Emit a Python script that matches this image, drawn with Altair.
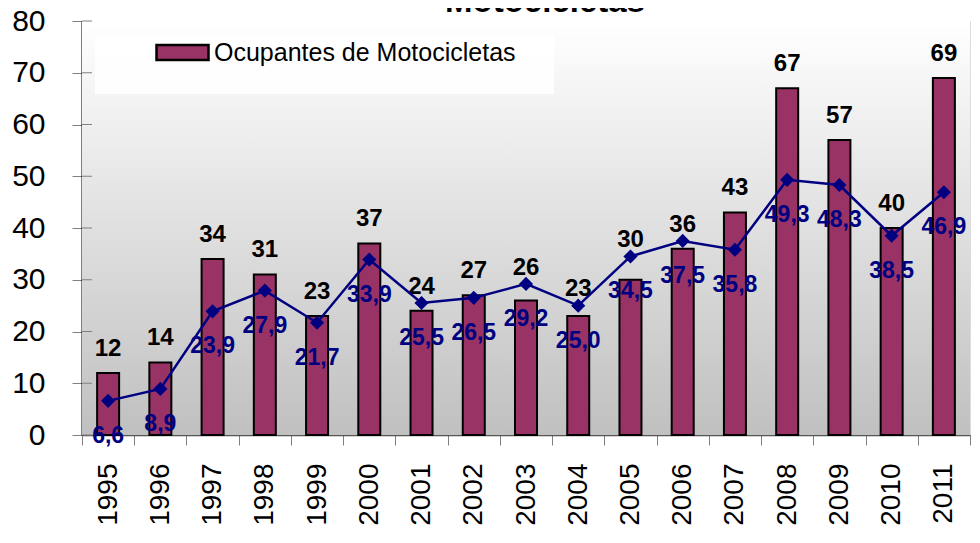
import altair as alt
import pandas as pd

years = ["1995", "1996", "1997", "1998", "1999", "2000", "2001", "2002", "2003",
         "2004", "2005", "2006", "2007", "2008", "2009", "2010", "2011"]
ocupantes = [12, 14, 34, 31, 23, 37, 24, 27, 26, 23, 30, 36, 43, 67, 57, 40, 69]
linea = [6.6, 8.9, 23.9, 27.9, 21.7, 33.9, 25.5, 26.5, 29.2, 25.0, 34.5, 37.5,
         35.8, 49.3, 48.3, 38.5, 46.9]
y_ticks = [0, 10, 20, 30, 40, 50, 60, 70, 80]
serie = "Ocupantes de Motocicletas"
titulo = "Motocicletas"

W, H = 888, 414
FONT = "Liberation Sans"

df = pd.DataFrame({
    "year": years,
    "ocupantes": ocupantes,
    "linea": linea,
    "serie": [serie] * len(years),
    "linea_lbl": [f"{v:.1f}".replace(".", ",") for v in linea],
})

one = pd.DataFrame({"a": [0]})
ticks_df = pd.DataFrame({"t": y_ticks})

yscale = alt.Scale(domain=[0, 80], nice=False)
xscale = alt.Scale(paddingInner=0, paddingOuter=0)

y_axis = alt.Axis(values=y_ticks, labelFontSize=30, labelFont=FONT,
                  labelColor="black", labelPadding=27, tickSize=10,
                  tickColor="#808080", domainColor="black", domainWidth=2,
                  grid=False, title=None)
x_axis = alt.Axis(labelAngle=-90, tickBand="extent", labelFontSize=28,
                  labelFont=FONT, labelColor="black", labelPadding=18,
                  tickSize=10, tickColor="#808080", domainColor="#555555",
                  domainWidth=1.5, title=None)

def X():
    return alt.X("year:N", title=None, sort=years, scale=xscale, axis=x_axis)

def Y(field):
    return alt.Y(field, title=None, scale=yscale, axis=y_axis)

bg = alt.Chart(one).mark_rect(
    fill=alt.Gradient(gradient="linear", x1=0, x2=0, y1=0, y2=1,
                      stops=[alt.GradientStop(color="#ffffff", offset=0),
                             alt.GradientStop(color="#c0c0c0", offset=1)])
).encode(x=alt.value(0), x2=alt.value(W), y=alt.value(0), y2=alt.value(H))

legbox = alt.Chart(one).mark_rect(fill="#ffffff", opacity=0.85).encode(
    x=alt.value(13), x2=alt.value(472), y=alt.value(15), y2=alt.value(73))

inner_ticks = alt.Chart(ticks_df).mark_rule(color="#808080", strokeWidth=1).encode(
    y=Y("t:Q"), x=alt.value(0), x2=alt.value(10))

base = alt.Chart(df)

bars = base.mark_bar(size=22, stroke="black", strokeWidth=2).encode(
    x=X(), y=Y("ocupantes:Q"),
    color=alt.Color("serie:N", scale=alt.Scale(domain=[serie], range=["#993366"]),
                    legend=alt.Legend(title=None, orient="none", legendX=73, legendY=4,
                                      symbolType="M-1,-0.29H1V0.29H-1Z", symbolSize=2704,
                                      symbolStrokeColor="black", symbolStrokeWidth=2.5,
                                      labelFontSize=25, labelFont=FONT, labelColor="black",
                                      labelLimit=600, labelOffset=4, padding=0)))

# bar labels sit above the bar, lifted above the line marker where that is higher
bar_lbl = base.transform_calculate(
    anchor="max(datum.ocupantes + 3.3, datum.linea + 1.8)"
).mark_text(font=FONT, fontSize=24, fontWeight="bold", color="black",
            baseline="alphabetic").encode(
    x=X(), y=Y("anchor:Q"), text="ocupantes:Q")

line = base.mark_line(color="#000080", strokeWidth=2.5).encode(
    x=X(), y=Y("linea:Q"))

pts = base.mark_point(shape="diamond", filled=True, size=200, color="#000080",
                      opacity=1).encode(x=X(), y=Y("linea:Q"))

line_lbl = base.mark_text(font=FONT, fontSize=23, fontWeight="bold", color="#000080",
                          baseline="middle", dy=35).encode(
    x=X(), y=Y("linea:Q"), text="linea_lbl:N")

title = alt.Chart(one).mark_text(text=titulo, font=FONT, fontSize=33, fontWeight="bold",
                                 color="black", baseline="alphabetic", align="center").encode(
    x=alt.value(463), y=alt.value(-9))

chart = alt.layer(bg, legbox, inner_ticks, bars, bar_lbl, line, pts, line_lbl, title).properties(
    width=W, height=H,
    autosize=alt.AutoSizeParams(type="none"),
    padding={"left": 74, "top": 13, "right": 2, "bottom": 92},
).configure_view(stroke="#808080", strokeWidth=2).configure(background="white")

chart.save("out.html", embed_options={"renderer": "svg", "actions": False})
